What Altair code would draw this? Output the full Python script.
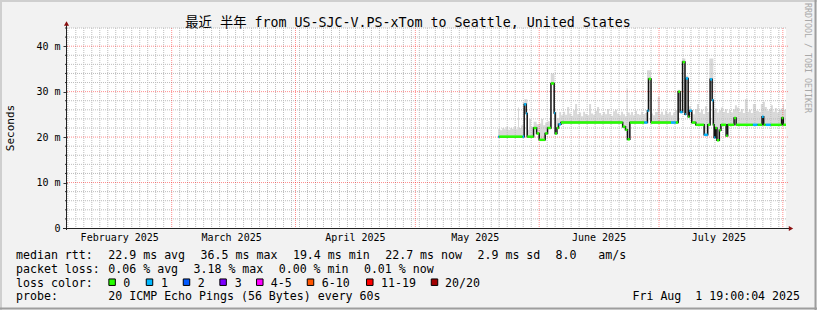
import altair as alt
import pandas as pd

# ------------------------------------------------------------------ data
TITLE = "最近 半年 from US-SJC-V.PS-xTom to Seattle, United States"
Y_TITLE = "Seconds"
WATERMARK = "RRDTOOL / TOBI OETIKER"
BASE_DAY = "2025-06-01T00:00:00"          # day offsets below are relative to this
END_DAY = 61.79                           # Fri Aug 1 19:00

# median rtt, step segments: start day, value (ms), loss class index
med_day = [-10.25, -10.0, -4.15, -3.75, -3.25, -3.0, -1.4, -0.65, 0.0, 1.5,
           2.1, 2.95, 3.75, 4.0, 4.45, 4.85, 5.45, 20.9, 21.6, 22.1,
           22.7, 26.3, 27.1, 27.4, 28.0, 33.0, 34.2, 34.8, 35.3, 35.9,
           36.5, 36.7, 37.3, 37.6, 38.2, 39.2, 41.3, 42.2, 42.8, 43.3,
           43.6, 43.8, 44.1, 44.5, 45.1, 45.5, 46.8, 47.2, 48.8, 49.3,
           53.5, 54.7, 55.8, 56.2, 56.7, 58.0, 60.7, 61.1]
med_ms = [20.1, 20.1, 20.1, 27.2, 25.2, 20.1, 22.0, 20.8, 19.4, 20.8,
          22.0, 31.8, 25.3, 20.8, 22.0, 22.8, 23.2, 22.3, 21.6, 19.5,
          23.2, 23.2, 25.8, 32.8, 23.2, 23.2, 23.2, 30.0, 25.5, 36.5,
          25.0, 32.9, 24.5, 25.8, 23.2, 22.7, 20.5, 22.7, 32.7, 28.1,
          22.7, 19.9, 22.0, 19.3, 21.5, 22.7, 20.3, 22.7, 24.2, 22.7,
          22.7, 22.7, 24.5, 22.7, 22.7, 22.7, 24.2, 22.7]
med_loss = [1, 0, 1, 1, 1, 0, 0, 0, 0, 0,
            0, 0, 1, 0, 0, 1, 0, 0, 0, 0,
            0, 1, 1, 0, 0, 1, 0, 0, 1, 0,
            1, 1, 0, 1, 0, 0, 1, 0, 1, 1,
            0, 1, 0, 0, 0, 0, 0, 0, 0, 0,
            1, 0, 1, 0, 1, 0, 0, 0]

# upper edge of the smoke (ms), step samples
smoke_day = [-10.25, -9.75, -9.25, -8.75, -8.25, -7.75, -7.25, -6.75, -6.25, -5.75,
             -5.3, -5.05, -4.5, -4.0, -3.75, -2.95, -2.5, -2.0, -1.4, -0.65,
             0.0, 0.5, 1.0, 1.5, 2.1, 2.9, 3.8, 4.4, 5.0, 5.5,
             6.0, 6.5, 7.0, 7.5, 8.0, 8.5, 9.0, 9.5, 10.0, 10.5,
             11.0, 11.5, 12.0, 12.5, 13.0, 13.5, 14.0, 14.5, 15.0, 15.5,
             16.0, 16.5, 17.0, 17.5, 18.0, 18.5, 19.0, 19.5, 20.0, 20.5,
             21.0, 21.5, 21.9, 22.15, 22.7, 23.0, 23.5, 24.0, 24.5, 25.0,
             25.5, 26.0, 26.5, 27.0, 28.0, 28.5, 29.0, 29.7, 30.2, 30.5,
             31.0, 31.5, 32.0, 32.5, 33.0, 33.5, 34.0, 34.6, 35.3, 35.8,
             36.6, 37.3, 38.0, 38.5, 39.0, 39.5, 40.0, 40.5, 41.0, 41.5,
             42.0, 42.6, 43.6, 44.0, 44.5, 45.0, 45.5, 46.0, 46.5, 47.0,
             47.5, 48.0, 48.5, 49.0, 49.5, 50.0, 50.5, 51.0, 51.5, 52.2,
             52.5, 53.0, 53.5, 54.3, 55.0, 55.5, 56.0, 56.5, 57.0, 57.5,
             58.0, 58.5, 59.0, 59.5, 60.0, 60.5, 61.0, 61.3]
smoke_ms = [21.8, 21.5, 22.0, 21.7, 22.3, 21.6, 22.0, 21.8, 22.4, 21.7,
            26.5, 22.0, 22.6, 21.8, 28.3, 21.6, 24.0, 22.3, 23.4, 22.8,
            23.0, 24.0, 22.6, 23.2, 23.5, 34.0, 25.6, 24.2, 25.5, 24.8,
            25.6, 24.9, 26.6, 25.2, 24.7, 25.9, 27.3, 25.0, 25.4, 24.6,
            25.6, 25.1, 24.8, 27.3, 25.2, 24.9, 25.8, 26.6, 25.3, 24.8,
            25.5, 25.0, 26.2, 25.1, 24.7, 25.7, 26.0, 25.2, 24.8, 25.6,
            25.0, 24.6, 30.7, 25.4, 24.9, 25.5, 24.8, 25.8, 25.1, 24.9,
            25.6, 25.0, 25.3, 34.7, 25.2, 24.8, 25.5, 28.9, 25.0, 25.6,
            24.9, 25.8, 25.2, 25.5, 24.8, 25.4, 25.9, 30.4, 26.0, 37.3,
            33.5, 26.8, 25.4, 25.0, 26.2, 27.3, 25.4, 26.0, 25.1, 26.8,
            25.5, 37.3, 25.8, 26.3, 25.4, 25.9, 26.5, 25.5, 26.1, 25.3,
            25.9, 25.4, 26.1, 27.0, 26.5, 25.6, 26.2, 25.3, 28.3, 25.5,
            26.0, 25.3, 27.3, 25.8, 25.5, 27.3, 27.8, 26.6, 25.8, 26.2,
            27.0, 25.6, 26.4, 25.4, 26.0, 26.3, 27.3, 26.0]

month_start = ["2025-03-01", "2025-04-01", "2025-05-01", "2025-06-01", "2025-07-01", "2025-08-01"]
month_mid = ["2025-02-16", "2025-03-16", "2025-04-16", "2025-05-16", "2025-06-16", "2025-07-16"]
month_name = ["February 2025", "March 2025", "April 2025", "May 2025", "June 2025", "July 2025"]

y_label_vals = [0, 10, 20, 30, 40]
y_major_grid = [10, 20, 30, 40]
y_minor_grid = [2, 4, 6, 8, 12, 14, 16, 18, 22, 24, 26, 28, 32, 34, 36, 38, 42, 44]

loss_labels = ["0", "1", "2", "3", "4-5", "6-10", "11-19", "20/20"]
loss_colors = ["#26ff00", "#00b8ff", "#0059ff", "#7e00ff", "#ff00ff", "#ff5500", "#ff0000", "#a10000"]

rtt_items = ["22.9 ms avg", "36.5 ms max", "19.4 ms min", "22.7 ms now", "2.9 ms sd", "8.0", "am/s"]
loss_items = ["0.06 % avg", "3.18 % max", "0.00 % min", "0.01 % now"]
probe_text = "20 ICMP Echo Pings (56 Bytes) every 60s"
stamp_text = "Fri Aug\u00a0\u00a01 19:00:04 2025"

# ------------------------------------------------------------------ layout
PL, PT, W, H = 67, 28, 719, 200
CW, CH = 817, 310
FONT = "DejaVu Sans Mono"
FONT_CJK = "DejaVu Sans Mono, Noto Sans CJK SC"
COL0, ADV = 16, 7.1            # legend text origin and character advance
rtt_cols = [13, 26, 39, 52, 65, 76, 82]
loss_cols = [13, 25, 37, 49]

base = pd.Timestamp(BASE_DAY)


def ts(days):
    return [base + pd.Timedelta(days=float(d)) for d in days]


smoke_df = pd.DataFrame({"t": ts(smoke_day + [END_DAY]), "v": smoke_ms + [smoke_ms[-1]]})
med_line_df = pd.DataFrame({"t": ts(med_day + [END_DAY]), "v": med_ms + [med_ms[-1]]})
seg_df = pd.DataFrame({
    "t": ts(med_day),
    "t2": ts(med_day[1:] + [END_DAY]),
    "v": med_ms,
    "c": [loss_colors[i] for i in med_loss],
})
ms_ts = pd.to_datetime(month_start)
minor_t = [d for d in pd.date_range("2025-02-03", "2025-07-31", freq="2D") if d not in set(ms_ts)]
vminor_df = pd.DataFrame({"t": minor_t})
vmajor_df = pd.DataFrame({"t": ms_ts})
hminor_df = pd.DataFrame({"v": y_minor_grid})
hmajor_df = pd.DataFrame({"v": y_major_grid})
yticks_df = pd.DataFrame({"v": y_minor_grid})
mlab_df = pd.DataFrame({"t": pd.to_datetime(month_mid), "s": month_name})

XS = alt.Scale(domain=[alt.DateTime(year=2025, month=2, date=2, hours=19),
                       alt.DateTime(year=2025, month=8, date=1, hours=19)])
YS = alt.Scale(domain=[0, 44], nice=False)
YAX = alt.Axis(values=y_label_vals,
               labelExpr="datum.value == 0 ? '0\u00a0\u00a0' : datum.value + ' m'",
               tickSize=4, tickColor="#333333", domain=False, grid=False, title=None,
               labelFont=FONT, labelFontSize=10, labelColor="#000000", labelPadding=3)


def X(f="t"):
    return alt.X(f"{f}:T", scale=XS, axis=None)


def Y(f="v"):
    return alt.Y(f"{f}:Q", scale=YS, axis=YAX, stack=None)


layers = []

# smoke and median cover
layers.append(alt.Chart(smoke_df).mark_area(interpolate="step-after", color="#d9d9d9")
              .encode(x=X(), y=Y()))
layers.append(alt.Chart(med_line_df).mark_area(interpolate="step-after", color="#ffffff")
              .encode(x=X(), y=Y()))

# grid
layers.append(alt.Chart(vminor_df).mark_rule(color="#bdbdbd", strokeDash=[1, 1], strokeWidth=1)
              .encode(x=X(), y=alt.value(0), y2=alt.value(H)))
layers.append(alt.Chart(hminor_df).mark_rule(color="#bdbdbd", strokeDash=[1, 1], strokeWidth=1)
              .encode(y=Y(), x=alt.value(0), x2=alt.value(W)))
layers.append(alt.Chart(vmajor_df).mark_rule(color="#ff0000", opacity=0.45, strokeDash=[1, 1], strokeWidth=1)
              .encode(x=X(), y=alt.value(0), y2=alt.value(H)))
layers.append(alt.Chart(hmajor_df).mark_rule(color="#ff0000", opacity=0.45, strokeDash=[1, 1], strokeWidth=1)
              .encode(y=Y(), x=alt.value(0), x2=alt.value(W + 2)))
layers.append(alt.Chart(yticks_df).mark_rule(color="#333333", strokeWidth=1)
              .encode(y=Y(), x=alt.value(-2), x2=alt.value(0)))

# median line and loss-coloured markers
layers.append(alt.Chart(med_line_df).mark_line(interpolate="step-after", color="#111111", strokeWidth=1.5)
              .encode(x=X(), y=Y()))
layers.append(alt.Chart(seg_df).mark_rule(strokeWidth=2.5)
              .encode(x=X(), x2="t2:T", y=Y(), color=alt.Color("c:N", scale=None)))

one = pd.DataFrame({"k": [0]})
# axis lines and arrows
layers.append(alt.Chart(one).mark_rule(color="#222222", strokeWidth=1)
              .encode(x=alt.value(-4), x2=alt.value(W + 3), y=alt.value(H + 0.5)))
layers.append(alt.Chart(one).mark_rule(color="#222222", strokeWidth=1)
              .encode(x=alt.value(-0.5), y=alt.value(H + 2), y2=alt.value(-3)))
layers.append(alt.Chart(one).mark_point(shape="triangle-up", filled=True, size=26, color="#8b1010", opacity=1)
              .encode(x=alt.value(-0.5), y=alt.value(-4.5)))
layers.append(alt.Chart(one).mark_point(shape="triangle-right", filled=True, size=26, color="#8b1010", opacity=1)
              .encode(x=alt.value(W + 5), y=alt.value(H + 0.5)))

# canvas border shading
for (x1, x2, y1, y2, col) in [(-PL, CW - PL, -PT + 1, -PT + 1, "#cfcfcf"),
                              (-PL + 1, -PL + 1, -PT, CH - PT, "#cfcfcf"),
                              (-PL, CW - PL, CH - PT - 1.5, CH - PT - 1.5, "#9e9e9e"),
                              (CW - PL - 1.5, CW - PL - 1.5, -PT, CH - PT, "#9e9e9e")]:
    layers.append(alt.Chart(one).mark_rule(color=col, strokeWidth=2)
                  .encode(x=alt.value(x1), x2=alt.value(x2), y=alt.value(y1), y2=alt.value(y2)))

# month labels
layers.append(alt.Chart(mlab_df).mark_text(font=FONT, fontSize=10, color="#000000", align="center", baseline="alphabetic")
              .encode(x=X(), y=alt.value(241 - PT), text="s:N"))


def txt(s, x, y, size=11.6, align="left", color="#000000", angle=0, baseline="alphabetic", font=FONT):
    return (alt.Chart(pd.DataFrame({"s": [s]}))
            .mark_text(font=font, fontSize=size, color=color, align=align, baseline=baseline, angle=angle)
            .encode(x=alt.value(x - PL), y=alt.value(y - PT), text="s:N"))


layers.append(txt(TITLE, 408, 26.5, size=13.3, align="center", font=FONT_CJK))
layers.append(txt(Y_TITLE, 10.5, 128, size=11, align="center", angle=270, baseline="middle"))
layers.append(txt(WATERMARK, 807, 58, size=8.3, align="center", angle=90, baseline="middle", color="#a8a8a8"))

rows_y = [258.5, 272.5, 286.5, 300]
layers.append(txt("median rtt:", COL0, rows_y[0]))
for s, c in zip(rtt_items, rtt_cols):
    layers.append(txt(s, COL0 + c * ADV, rows_y[0]))
layers.append(txt("packet loss:", COL0, rows_y[1]))
for s, c in zip(loss_items, loss_cols):
    layers.append(txt(s, COL0 + c * ADV, rows_y[1]))
layers.append(txt("loss color:", COL0, rows_y[2]))
sw_x = [108.3, 145.7, 182.7, 219.3, 256, 306.7, 366, 430.7]
lb_x = [123.3, 161, 197.7, 234.7, 270.7, 321.7, 381, 445]
for lab, col, sx, lx in zip(loss_labels, loss_colors, sw_x, lb_x):
    layers.append(alt.Chart(one).mark_square(size=42, color=col, stroke="#000000", strokeWidth=1, opacity=1)
                  .encode(x=alt.value(sx + 3.8 - PL), y=alt.value(282.2 - PT)))
    layers.append(txt(lab, lx, rows_y[2]))
layers.append(txt("probe:", COL0, rows_y[3]))
layers.append(txt(probe_text, COL0 + 13 * ADV, rows_y[3]))
layers.append(txt(stamp_text, 800, rows_y[3], align="right"))

chart = (alt.layer(*layers)
         .properties(width=W, height=H, background="#f2f2f2",
                     padding={"left": PL, "top": PT, "right": CW - PL - W, "bottom": CH - PT - H},
                     autosize=alt.AutoSizeParams(type="none"))
         .configure_view(stroke=None, fill="#ffffff"))

chart.save("out.html", embed_options={"renderer": "svg", "actions": False})
